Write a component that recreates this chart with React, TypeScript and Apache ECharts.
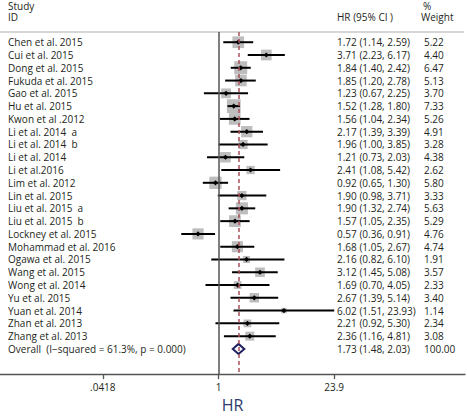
import React, { useEffect, useRef } from "react";
import * as echarts from "echarts";

const studies = [
  "Chen et al. 2015", "Cui et al. 2015", "Dong et al. 2015", "Fukuda et al. 2015",
  "Gao et al. 2015", "Hu et al. 2015", "Kwon et al .2012", "Li et al. 2014  a",
  "Li et al. 2014  b", "Li et al. 2014", "Li et al.2016", "Lim et al. 2012",
  "Lin et al. 2015", "Liu et al. 2015  a", "Liu et al. 2015  b", "Lockney et al. 2015",
  "Mohammad et al. 2016", "Ogawa et al. 2015", "Wang et al. 2015", "Wong et al. 2014",
  "Yu et al. 2015", "Yuan et al. 2014", "Zhan et al. 2013", "Zhang et al. 2013",
];
const hrValues = [1.72, 3.71, 1.84, 1.85, 1.23, 1.52, 1.56, 2.17, 1.96, 1.21, 2.41, 0.92, 1.90, 1.90, 1.57, 0.57, 1.68, 2.16, 3.12, 1.69, 2.67, 6.02, 2.21, 2.36];
const lowerCI = [1.14, 2.23, 1.40, 1.20, 0.67, 1.28, 1.04, 1.39, 1.00, 0.73, 1.08, 0.65, 0.98, 1.32, 1.05, 0.36, 1.05, 0.82, 1.45, 0.70, 1.39, 1.51, 0.92, 1.16];
const upperCI = [2.59, 6.17, 2.42, 2.78, 2.25, 1.80, 2.34, 3.39, 3.85, 2.03, 5.42, 1.30, 3.71, 2.74, 2.35, 0.91, 2.67, 6.10, 5.08, 4.05, 5.14, 23.93, 5.30, 4.81];
const weights = [5.22, 4.40, 6.47, 5.13, 3.70, 7.33, 5.26, 4.91, 3.28, 4.38, 2.62, 5.80, 3.33, 5.63, 5.29, 4.76, 4.74, 1.91, 3.57, 2.33, 3.40, 1.14, 2.34, 3.08];
const overallLabel = "Overall  (I\u2212squared = 61.3%, p = 0.000)";
const overall = { hr: 1.73, lo: 1.48, hi: 2.03, weight: 100.0 };
const tickValues = [0.0418, 1, 23.9];
const tickLabels = [".0418", "1", "23.9"];

const FONT = "Open Sans";
const TEXT_COLOR = "#231f20";

export default function App() {
  const ref = useRef<HTMLDivElement>(null);
  useEffect(() => {
    if (!ref.current) return;
    const chart = echarts.init(ref.current, undefined, { renderer: "svg" });

    const rows = studies.map((s, i) => [i, Math.log(hrValues[i]), Math.log(lowerCI[i]), Math.log(upperCI[i]), weights[i], 0]);
    rows.push([studies.length, Math.log(overall.hr), Math.log(overall.lo), Math.log(overall.hi), overall.weight, 1]);
    const labelsAll = [...studies, overallLabel];
    const hrAll = [...hrValues, overall.hr];
    const loAll = [...lowerCI, overall.lo];
    const hiAll = [...upperCI, overall.hi];
    const wAll = [...weights, overall.weight];

    const fmt = (v: number) => v.toFixed(2);
    const tickLn = tickValues.map((v) => Math.log(v));

    const textStyle = (t: string, x: number, y: number) => ({
      type: "text",
      x,
      y,
      style: { text: t, fill: TEXT_COLOR, fontSize: 10, fontFamily: FONT, verticalAlign: "middle", align: "left" },
    });
    const headStyle = (t: string, x: number, y: number) => ({
      type: "text",
      x,
      y,
      style: { text: t, fill: TEXT_COLOR, fontSize: 10, fontFamily: FONT, verticalAlign: "middle", lineHeight: 11 },
    });

    const option: any = {
      animation: false,
      grid: { left: 0, right: 2, top: 32, bottom: 42 },
      xAxis: {
        type: "value",
        min: -5.995,
        max: 6.763,
        splitLine: { show: false },
        axisLine: { show: true, onZero: false, lineStyle: { color: "#555", width: 1.3 } },
        axisTick: { show: true, length: 5, customValues: tickLn, lineStyle: { color: "#555", width: 1.3 } },
        axisLabel: {
          customValues: tickLn,
          margin: 8,
          fontSize: 10,
          fontFamily: FONT,
          color: TEXT_COLOR,
          formatter: (v: number) => {
            let best = 0;
            tickLn.forEach((t, k) => { if (Math.abs(t - v) < Math.abs(tickLn[best] - v)) best = k; });
            return tickLabels[best];
          },
        },
        name: "HR",
        nameLocation: "middle",
        nameGap: 22,
        nameTextStyle: { fontSize: 16, fontFamily: FONT, color: "#2b3b6b" },
      },
      yAxis: {
        type: "value",
        inverse: true,
        min: -0.8,
        max: 25.97,
        show: false,
      },
      graphic: [
        headStyle("Study", 8, 5.5),
        headStyle("ID", 8, 17),
        headStyle("HR (95% CI )", 337, 17),
        headStyle("%", 423, 5.5),
        headStyle("Weight", 421, 17),
        { type: "line", shape: { x1: 0, y1: 32, x2: 464, y2: 32 }, style: { stroke: "#c8c8c8", lineWidth: 1.5 } },
      ],
      series: [
        {
          type: "custom",
          data: rows,
          encode: { x: [1, 2, 3], y: 0 },
          renderItem: (params: any, api: any) => {
            const i = api.value(0);
            const isOverall = api.value(5) === 1;
            const c = api.coord([api.value(1), i]);
            const l = api.coord([api.value(2), i]);
            const h = api.coord([api.value(3), i]);
            const y = c[1];
            const children: any[] = [];
            if (isOverall) {
              const hh = 5;
              children.push({
                type: "polygon",
                shape: { points: [[l[0], y], [c[0], y - hh], [h[0], y], [c[0], y + hh]] },
                style: { fill: "#fff", stroke: "#1f1f5f", lineWidth: 2 },
              });
            } else {
              const side = 5.1 * Math.sqrt(api.value(4));
              children.push({
                type: "rect",
                shape: { x: c[0] - side / 2, y: y - side / 2, width: side, height: side },
                style: { fill: "#bdbdbd" },
              });
              children.push({
                type: "line",
                shape: { x1: l[0], y1: y, x2: h[0], y2: y },
                style: { stroke: "#000", lineWidth: 2 },
              });
              const r = 2.6;
              children.push({
                type: "polygon",
                shape: { points: [[c[0] - r, y], [c[0], y - r], [c[0] + r, y], [c[0], y + r]] },
                style: { fill: "#000" },
              });
            }
            children.push(textStyle(labelsAll[i], 8, y));
            children.push(textStyle(`${fmt(hrAll[i])} (${fmt(loAll[i])}, ${fmt(hiAll[i])})`, 337, y));
            children.push(textStyle(fmt(wAll[i]), 424, y));
            return { type: "group", children };
          },
          markLine: {
            silent: true,
            symbol: "none",
            label: { show: false },
            data: [
              { xAxis: 0, lineStyle: { color: "#555", width: 1.5, type: "solid" } },
              { xAxis: Math.log(overall.hr), lineStyle: { color: "#a8505a", width: 1.5, type: [4, 3] } },
            ],
          },
          z: 3,
        },
      ],
    };
    chart.setOption(option);
    return () => chart.dispose();
  }, []);
  return <div ref={ref} style={{ position: "absolute", left: 0, top: 0, width: 467, height: 418 }} />;
}
